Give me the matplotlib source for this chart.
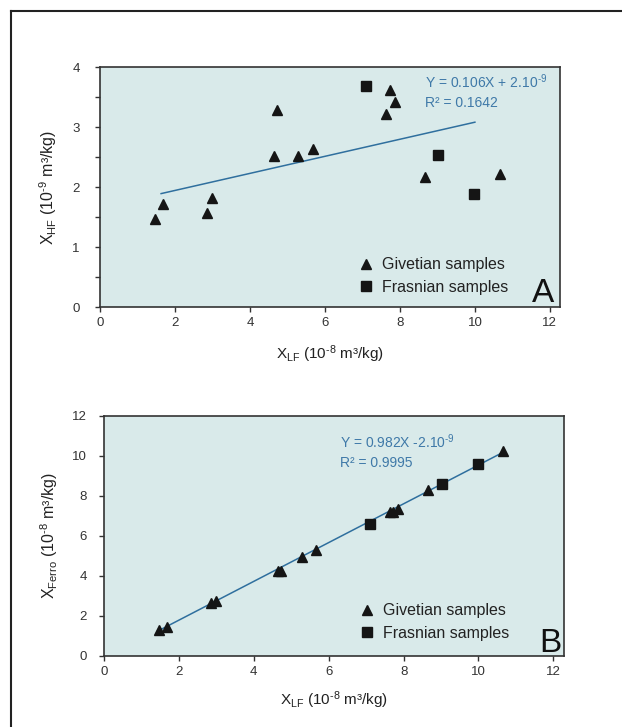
import matplotlib
matplotlib.use("Agg")
import matplotlib.pyplot as plt
from matplotlib.lines import Line2D

plt.rcParams["font.family"] = ["Liberation Sans Narrow", "Liberation Sans", "DejaVu Sans"]
plt.rcParams["mathtext.default"] = "regular"

# Susceptibility data (X_LF in 1e-8 m3/kg)
giv_xlf = [1.46, 1.68, 2.85, 2.99, 4.65, 4.72, 5.28, 5.67, 7.64, 7.73, 7.86, 8.66, 10.66]
giv_xhf = [1.46, 1.72, 1.57, 1.82, 2.52, 3.29, 2.52, 2.64, 3.22, 3.62, 3.42, 2.17, 2.21]
giv_xferro = [1.30, 1.45, 2.66, 2.74, 4.27, 4.27, 4.94, 5.32, 7.18, 7.21, 7.35, 8.31, 10.25]

fras_xlf = [7.10, 9.02, 9.98]
fras_xhf = [3.69, 2.53, 1.88]
fras_xferro = [6.60, 8.59, 9.61]

# regression lines (end points)
fitA_x = [1.63, 10.0]
fitA_y = [1.89, 3.08]
fitB_x = [1.42, 10.64]
fitB_y = [1.23, 10.17]

face = "#d9eaea"
blue = "#2f6f9e"
eq_color = "#3f79a8"

fig = plt.figure(figsize=(6.22, 7.27), dpi=100)

# frame lines (top and left)
fig.add_artist(Line2D([11 / 622, 1.0], [1 - 11 / 727, 1 - 11 / 727], transform=fig.transFigure,
                      color="#222222", lw=1.5))
fig.add_artist(Line2D([11 / 622, 11 / 622], [0, 1 - 11 / 727], transform=fig.transFigure,
                      color="#222222", lw=1.5))

axA = fig.add_axes([100 / 622, 1 - 307 / 727, 460 / 622, 240 / 727])
axB = fig.add_axes([104 / 622, 1 - 656 / 727, 459.5 / 622, 240 / 727])


def style(ax, ymax, ystep, minor, ypad):
    ax.set_facecolor(face)
    for s in ax.spines.values():
        s.set_color("#333333")
        s.set_linewidth(1.2)
    ax.set_xlim(0, 12.27)
    ax.set_ylim(0, ymax)
    ax.set_xticks(range(0, 13, 2))
    ax.set_yticks(range(0, ymax + 1, ystep))
    if minor:
        ax.set_yticks([v + 0.5 for v in range(0, ymax)], minor=True)
    ax.tick_params(axis="both", which="both", direction="out", length=3.5, width=1,
                   color="#333333", labelsize=9.5, labelcolor="#333333")
    ax.tick_params(axis="y", pad=ypad)
    ax.tick_params(axis="x", pad=3.5)


def draw(ax, yg, yf, fx, fy):
    ax.plot(fx, fy, color=blue, lw=1.1, zorder=2)
    ax.plot(giv_xlf, yg, "^", color="#151515", ms=7.5, ls="none", zorder=3,
            label="Givetian samples")
    ax.plot(fras_xlf, yf, "s", color="#151515", ms=7.3, ls="none", zorder=3,
            label="Frasnian samples")


def legend(ax, x0, yc):
    ax.legend(loc="center left", bbox_to_anchor=(x0, yc), frameon=False, fontsize=11.5,
              handlelength=1.0, handletextpad=0.5, labelspacing=0.45, borderpad=0,
              borderaxespad=0, labelcolor="#222222")


style(axA, 4, 1, True, 11)
draw(axA, giv_xhf, fras_xhf, fitA_x, fitA_y)
axA.text(8.68, 3.65, "Y = 0.106X + 2.10$^{‐9}$", color=eq_color, fontsize=10, va="baseline")
axA.text(8.68, 3.33, "R² = 0.1642", color=eq_color, fontsize=10, va="baseline")
axA.set_ylabel("X$_{HF}$ (10$^{‐9}$ m³/kg)", fontsize=11.5, color="#222222")
axA.set_xlabel("X$_{LF}$ (10$^{‐8}$ m³/kg)", fontsize=11, color="#222222")
axA.yaxis.set_label_coords(-0.09, 0.5)
axA.xaxis.set_label_coords(0.5, -0.15)
axA.text(0.963, 0.02, "A", transform=axA.transAxes, fontsize=24, ha="center",
         va="baseline", color="#111111")
legend(axA, 0.561, 0.129)

style(axB, 12, 2, False, 9)
draw(axB, giv_xferro, fras_xferro, fitB_x, fitB_y)
axB.text(6.31, 10.4, "Y = 0.982X -2.10$^{‐9}$", color=eq_color, fontsize=10, va="baseline")
axB.text(6.31, 9.45, "R² = 0.9995", color=eq_color, fontsize=10, va="baseline")
axB.set_ylabel("X$_{Ferro}$ (10$^{‐8}$ m³/kg)", fontsize=11.5, color="#222222")
axB.set_xlabel("X$_{LF}$ (10$^{‐8}$ m³/kg)", fontsize=11, color="#222222")
axB.yaxis.set_label_coords(-0.095, 0.5)
axB.xaxis.set_label_coords(0.5, -0.14)
axB.text(0.971, 0.017, "B", transform=axB.transAxes, fontsize=24, ha="center",
         va="baseline", color="#111111")
legend(axB, 0.555, 0.142)

fig.savefig("out.png", dpi=100)
